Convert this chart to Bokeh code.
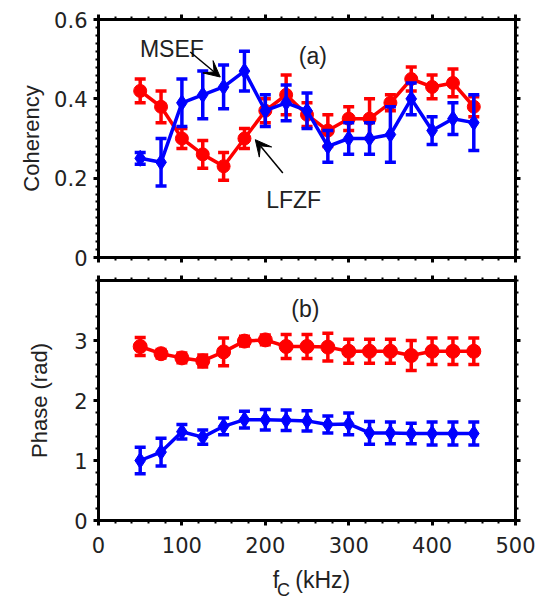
import numpy as np
from bokeh.plotting import figure
from bokeh.layouts import column
from bokeh.models import (FixedTicker, LinearAxis, Label, Arrow, VeeHead, Range1d)
from bokeh.embed import file_html
from bokeh.resources import INLINE

# ---------------- data ----------------
freq = [50, 75, 100, 125, 150, 175, 200, 225, 250, 275, 300, 325, 350, 375, 400, 425, 450]

coh_lfzf = [0.42, 0.38, 0.30, 0.26, 0.23, 0.30, 0.37, 0.41, 0.36, 0.32, 0.35, 0.35, 0.39, 0.45, 0.43, 0.44, 0.38]
coh_lfzf_err = [0.03, 0.04, 0.025, 0.035, 0.035, 0.025, 0.03, 0.05, 0.03, 0.04, 0.03, 0.05, 0.02, 0.03, 0.03, 0.035, 0.025]
coh_msef = [0.25, 0.24, 0.39, 0.41, 0.43, 0.47, 0.37, 0.39, 0.37, 0.28, 0.30, 0.30, 0.31, 0.40, 0.32, 0.35, 0.34]
coh_msef_err = [0.015, 0.06, 0.06, 0.06, 0.055, 0.05, 0.04, 0.045, 0.045, 0.04, 0.04, 0.04, 0.07, 0.04, 0.035, 0.04, 0.07]

ph_lfzf = [2.90, 2.78, 2.71, 2.66, 2.81, 2.99, 3.01, 2.90, 2.90, 2.89, 2.82, 2.82, 2.82, 2.75, 2.82, 2.82, 2.82]
ph_lfzf_err = [0.15, 0.07, 0.08, 0.10, 0.23, 0.08, 0.08, 0.20, 0.20, 0.23, 0.20, 0.20, 0.20, 0.25, 0.22, 0.22, 0.22]
ph_msef = [1.00, 1.14, 1.48, 1.39, 1.57, 1.68, 1.68, 1.67, 1.66, 1.60, 1.61, 1.46, 1.46, 1.45, 1.45, 1.45, 1.45]
ph_msef_err = [0.22, 0.23, 0.12, 0.12, 0.14, 0.14, 0.17, 0.17, 0.17, 0.14, 0.18, 0.19, 0.18, 0.17, 0.19, 0.19, 0.19]

x_ticks = [0, 100, 200, 300, 400, 500]
coh_ticks = [0, 0.2, 0.4, 0.6]
ph_ticks = [0, 1, 2, 3]

RED = "#ff0000"
BLUE = "#0000ff"
TXT = "#222222"
TICK_FONT = "DejaVu Sans"
LAB_FONT = "Liberation Sans"

W = 536
LEFT = 98
RIGHT = 21


def style_axis(ax, show_labels):
    ax.axis_line_width = 3
    ax.axis_line_color = "black"
    ax.major_tick_in = 0
    ax.major_tick_out = 5
    ax.major_tick_line_width = 3
    ax.minor_tick_in = 0
    ax.minor_tick_out = 3
    ax.minor_tick_line_width = 2
    ax.major_label_text_font = TICK_FONT
    ax.major_label_text_color = TXT
    if show_labels:
        ax.major_label_text_font_size = "21px"
        ax.major_label_standoff = 6
    else:
        ax.major_label_text_alpha = 0
        ax.major_label_text_font_size = "1px"
        ax.major_label_standoff = 0
    ax.axis_label_text_font = LAB_FONT
    ax.axis_label_text_font_style = "normal"
    ax.axis_label_text_font_size = "22px"
    ax.axis_label_text_color = TXT


def make_fig(height, ymax, yticks, yminor, top_b, bot_b, ylabel, ystandoff, show_x):
    p = figure(width=W, height=height, output_backend="svg", toolbar_location=None,
               x_range=Range1d(0, 500), y_range=Range1d(0, ymax),
               min_border_left=LEFT, min_border_right=RIGHT,
               min_border_top=top_b, min_border_bottom=bot_b,
               x_axis_location=None, y_axis_location=None)
    p.outline_line_color = "black"
    p.outline_line_width = 3
    p.xgrid.visible = False
    p.ygrid.visible = False
    p.background_fill_color = "white"
    p.border_fill_color = "white"

    xt = FixedTicker(ticks=x_ticks, minor_ticks=list(range(0, 501, 20)))
    yt = FixedTicker(ticks=yticks, minor_ticks=yminor)

    xb = LinearAxis(ticker=xt)
    style_axis(xb, show_x)
    if show_x:
        xb.major_label_standoff = 11
    p.add_layout(xb, "below")
    xa = LinearAxis(ticker=xt)
    style_axis(xa, False)
    p.add_layout(xa, "above")

    yl = LinearAxis(ticker=yt, axis_label=ylabel)
    style_axis(yl, True)
    yl.axis_label_standoff = ystandoff
    p.add_layout(yl, "left")
    yr = LinearAxis(ticker=yt)
    style_axis(yr, False)
    p.add_layout(yr, "right")
    return p, yl


def draw_series(p, y, err, color, marker, msize):
    y = np.array(y)
    e = np.array(err)
    p.line(freq, y, line_color=color, line_width=3.5)
    p.segment(x0=freq, y0=y - e, x1=freq, y1=y + e, line_color=color, line_width=3.5)
    p.scatter(freq, y - e, marker="dash", size=11, line_color=color, line_width=3.5)
    p.scatter(freq, y + e, marker="dash", size=11, line_color=color, line_width=3.5)
    p.scatter(freq, y, marker=marker, size=msize, fill_color=color, line_color=color, line_width=1)


# ---------------- panel (a) ----------------
p1, yl1 = make_fig(274, 0.6, coh_ticks, [round(v, 3) for v in np.arange(0, 0.601, 0.02)],
                   19, 17, "Coherency", 7, False)
yl1.major_label_overrides = {0: "0", 0.2: "0.2", 0.4: "0.4", 0.6: "0.6"}
draw_series(p1, coh_lfzf, coh_lfzf_err, RED, "circle", 13)
draw_series(p1, coh_msef, coh_msef_err, BLUE, "diamond", 16)

p1.add_layout(Label(x=257, y=0.509, text="(a)", text_align="center", text_baseline="alphabetic",
                    text_font=LAB_FONT, text_font_size="23px", text_color=TXT))
p1.add_layout(Label(x=88, y=0.526, text="MSEF", text_align="center", text_baseline="alphabetic",
                    text_font=LAB_FONT, text_font_size="23px", text_color=TXT))
p1.add_layout(Label(x=234, y=0.144, text="LFZF", text_align="center", text_baseline="alphabetic",
                    text_font=LAB_FONT, text_font_size="23px", text_color=TXT))
p1.add_layout(Arrow(x_start=110, y_start=0.518, x_end=146, y_end=0.455, line_width=1.5,
                    line_color="black",
                    end=VeeHead(size=16, fill_color="black", line_color="black", line_width=1)))
p1.add_layout(Arrow(x_start=221, y_start=0.213, x_end=188, y_end=0.297, line_width=1.5,
                    line_color="black",
                    end=VeeHead(size=16, fill_color="black", line_color="black", line_width=1)))

# ---------------- panel (b) ----------------
p2, yl2 = make_fig(286, 4.0, ph_ticks, [round(v, 2) for v in np.arange(0, 4.01, 0.2)],
                   6, 40, "Phase (rad)", 19, True)
draw_series(p2, ph_lfzf, ph_lfzf_err, RED, "circle", 14)
draw_series(p2, ph_msef, ph_msef_err, BLUE, "diamond", 16)

p2.add_layout(Label(x=248, y=3.52, text="(b)", text_align="center", text_baseline="alphabetic",
                    text_font=LAB_FONT, text_font_size="23px", text_color=TXT))

# ---------------- x-axis title strip: f_C (kHz) ----------------
p3 = figure(width=W, height=40, output_backend="svg", toolbar_location=None,
            x_range=p2.x_range, y_range=Range1d(0, 40),
            min_border_left=LEFT, min_border_right=RIGHT, min_border_top=0, min_border_bottom=0,
            x_axis_location=None, y_axis_location=None)
p3.outline_line_color = None
p3.xgrid.visible = False
p3.ygrid.visible = False
p3.add_layout(Label(x=209, y=21, text="f", text_align="left", text_baseline="alphabetic",
                    text_font=LAB_FONT, text_font_size="23px", text_color=TXT))
p3.add_layout(Label(x=214, y=11, text="C", text_align="left", text_baseline="alphabetic",
                    text_font=LAB_FONT, text_font_size="18px", text_color=TXT))
p3.add_layout(Label(x=236, y=21, text="(kHz)", text_align="left", text_baseline="alphabetic",
                    text_font=LAB_FONT, text_font_size="23px", text_color=TXT))

layout = column(p1, p2, p3, spacing=0)

with open("out.html", "w") as f:
    f.write(file_html(layout, INLINE))
